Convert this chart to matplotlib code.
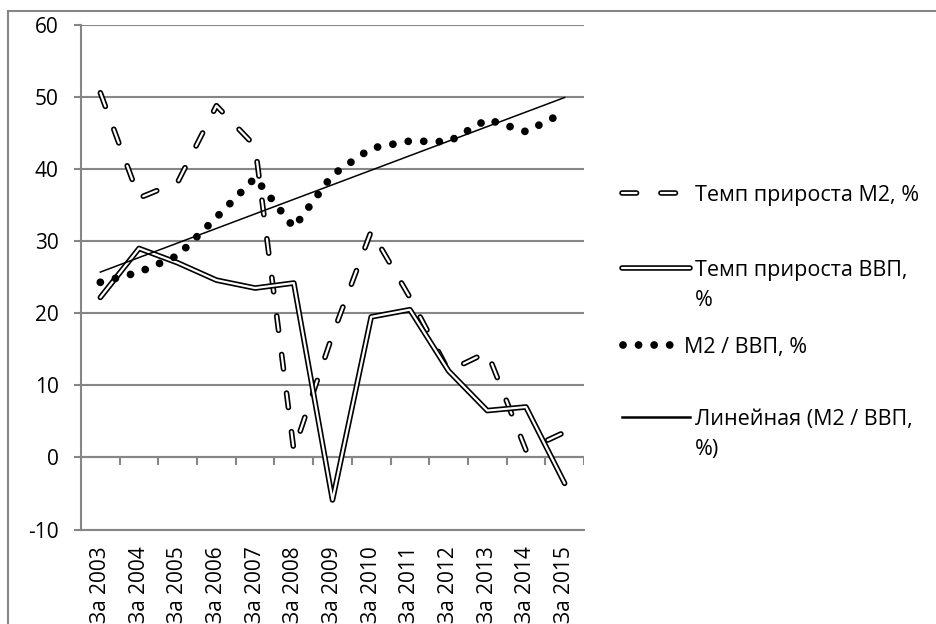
import numpy as np
import matplotlib
matplotlib.use("Agg")
import matplotlib.pyplot as plt
from matplotlib.patches import Rectangle

# data
years = ['За 2003', 'За 2004', 'За 2005', 'За 2006', 'За 2007', 'За 2008', 'За 2009',
         'За 2010', 'За 2011', 'За 2012', 'За 2013', 'За 2014', 'За 2015']
m2_growth = [50.6, 36.0, 38.2, 48.8, 43.2, 1.0, 17.0, 31.4, 22.2, 12.0, 14.6, 1.0, 3.5]
gdp_growth = [22.2, 29.0, 27.0, 24.6, 23.5, 24.2, -5.9, 19.5, 20.5, 12.0, 6.5, 7.0, -3.6]
m2_to_gdp = [24.3, 25.7, 28.0, 33.3, 38.8, 31.9, 39.2, 42.9, 43.9, 43.8, 46.9, 45.2, 47.9]
legend_labels = ['Темп прироста М2, %', 'Темп прироста ВВП,\n%', 'М2 / ВВП, %',
                 'Линейная (М2 / ВВП,\n%)']

plt.rcParams['font.family'] = ['Open Sans', 'DejaVu Sans']
plt.rcParams['lines.scale_dashes'] = False
plt.rcParams['axes.unicode_minus'] = False

grid_color = '#868686'
text_color = '#000000'
dash_pat = (10.5, 17.5)
dot_pat = (0.01, 11.2)

fig = plt.figure(figsize=(9.36, 6.24), dpi=100)
ax = fig.add_axes([81 / 936, 1 - 529.5 / 624, 503 / 936, 504.5 / 624])
x = np.arange(len(years))


def double_line(target, xs, ys, dashes=None):
    kw = dict(solid_capstyle='round', dash_capstyle='round', solid_joinstyle='round',
              dash_joinstyle='round')
    outer, = target.plot(xs, ys, color='black', lw=4.0, **kw)
    inner, = target.plot(xs, ys, color='white', lw=1.6, **kw)
    if dashes is not None:
        outer.set_dashes(dashes)
        inner.set_dashes(dashes)
    return outer, inner


double_line(ax, x, m2_growth, dashes=dash_pat)
double_line(ax, x, gdp_growth)
ax.plot(x, m2_to_gdp, color='black', lw=5.6, dashes=dot_pat, dash_capstyle='round')

# linear trend of M2 / GDP
coef = np.polyfit(x, m2_to_gdp, 1)
ax.plot(x, np.polyval(coef, x), color='black', lw=1.1)

ax.set_xlim(-0.5, len(years) - 0.5)
ax.set_ylim(-10, 60)
ax.set_yticks(range(-10, 61, 10))
ax.grid(axis='y', color=grid_color, lw=1.5)
ax.set_axisbelow(True)
for side in ['top', 'right']:
    ax.spines[side].set_visible(False)
for side in ['left', 'bottom']:
    ax.spines[side].set_color(grid_color)
    ax.spines[side].set_linewidth(1.5)

ax.tick_params(axis='y', length=5, width=1.5, color=grid_color, pad=11,
               labelsize=15, labelcolor=text_color)
ax.set_xticks(x, years, rotation=90)
ax.tick_params(axis='x', length=0, pad=12, labelsize=15, labelcolor=text_color)

# category axis crosses at zero, with ticks between the categories
ax.axhline(0, color=grid_color, lw=1.5, zorder=0.6)
ax.vlines(x + 0.5, 0, -1.1, color=grid_color, lw=1.5, zorder=0.6)

# chart frame
fig.patches.append(Rectangle((8 / 936, -0.1), 1.0, 1 - 11 / 624 + 0.1,
                             transform=fig.transFigure, fill=False,
                             edgecolor=grid_color, lw=1.5))

# legend, Excel style: the handle sits on the first line of each label
lax = fig.add_axes([0, 0, 1, 1], facecolor='none')
lax.set_axis_off()
lax.set_xlim(0, 936)
lax.set_ylim(624, 0)
rows_y = [193, 268, 345, 417]
hx = np.array([622, 690])
double_line(lax, hx, [rows_y[0]] * 2, dashes=dash_pat)
double_line(lax, hx, [rows_y[1]] * 2)
lax.plot([623, 670], [rows_y[2]] * 2, color='black', lw=5.6, dashes=dot_pat,
         dash_capstyle='round')
lax.plot(hx, [rows_y[3]] * 2, color='black', lw=1.8)
text_x = [695, 695, 684, 695]
for tx, ty, lab in zip(text_x, rows_y, legend_labels):
    for k, line in enumerate(lab.split('\n')):
        lax.text(tx, ty + 30 * k, line, fontsize=15.5, color=text_color,
                 va='center_baseline', ha='left')

fig.savefig('out.png', dpi=100)
